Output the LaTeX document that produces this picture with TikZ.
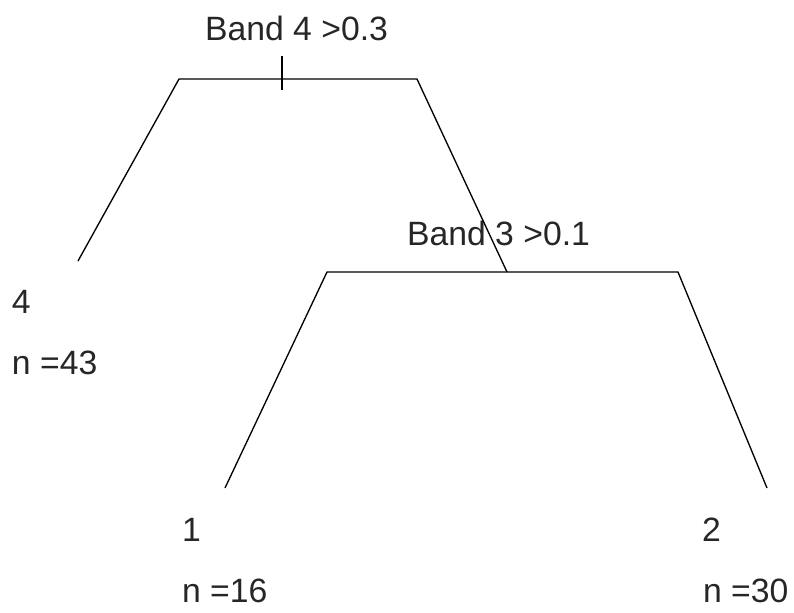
\documentclass[tikz,border=0pt]{standalone}
\usepackage{fontspec}
\setmainfont{Liberation Sans}
\begin{document}
\begin{tikzpicture}[x=0.75pt,y=-0.75pt,
  lbl/.style={inner sep=0pt,outer sep=0pt,font=\fontsize{25.3}{29}\selectfont,text=black!85},
  edge/.style={draw=black,line width=1pt}]
\useasboundingbox (0,0) rectangle (794,612);
% tree points
\coordinate (tl) at (179,79);
\coordinate (tr) at (417,79);
\coordinate (tick1) at (282,56);
\coordinate (tick2) at (282,90);
\coordinate (leafA) at (78,261);
\coordinate (s2) at (507,272);
\coordinate (ml) at (327,272);
\coordinate (mr) at (678,272);
\coordinate (leafB) at (225,488);
\coordinate (leafC) at (767,488);
% split labels
\node[lbl,anchor=base] (split1) at (296.5,40) {Band 4 >0.3};
\node[lbl,anchor=base] (split2) at (498.5,245) {Band 3 >0.1};
% edges
\draw[edge] (leafA) -- (tl) -- (tr) -- (s2);
\draw[edge] (tick1) -- (tick2);
\draw[edge] (leafB) -- (ml) -- (mr) -- (leafC);
% leaf labels
\node[lbl,anchor=base west] (l4) at (12,313) {4};
\node[lbl,anchor=base west] (n43) at (12,374) {n =43};
\node[lbl,anchor=base west] (l1) at (182,541) {1};
\node[lbl,anchor=base west] (n16) at (182,602) {n =16};
\node[lbl,anchor=base west] (l2) at (702,541) {2};
\node[lbl,anchor=base west] (n30) at (703,602) {n =30};
\end{tikzpicture}
\end{document}
